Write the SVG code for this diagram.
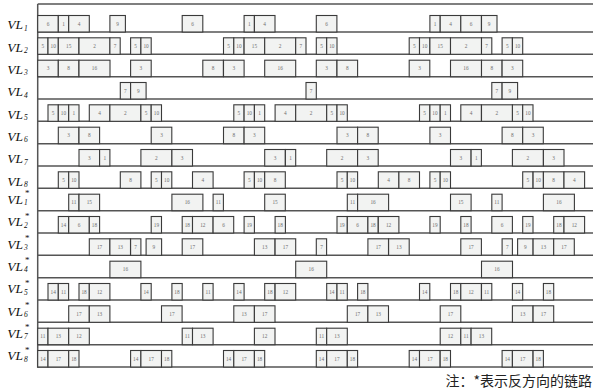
<svg xmlns="http://www.w3.org/2000/svg" width="593" height="391" viewBox="0 0 593 391">
<style>
.b rect{fill:#f2f3f2;stroke:#3a3a3a;stroke-width:1.1}
.b text{font-family:"Liberation Serif",serif;font-size:5.3px;fill:#6e6e6e;text-anchor:middle}
.b text.l{font-size:13.5px;font-style:italic;fill:#111;text-anchor:start}
.b text.s{font-size:7.5px;font-style:italic;fill:#111;text-anchor:start}
.b text.st{font-size:9px;fill:#111;text-anchor:start}
.g line{stroke:#555;stroke-width:1.5}
.note{font-family:"Noto Sans CJK SC",sans-serif;font-size:14px;fill:#222;text-anchor:end}
</style>
<g id="connectors" class="g">
<line x1="37.7" y1="4" x2="593" y2="4"/>
<line x1="37.7" y1="4" x2="37.7" y2="367.7"/>
<line x1="37.7" y1="32" x2="593" y2="32"/>
<line x1="37.7" y1="54.3" x2="593" y2="54.3"/>
<line x1="37.7" y1="76.7" x2="593" y2="76.7"/>
<line x1="37.7" y1="99" x2="593" y2="99"/>
<line x1="37.7" y1="121.3" x2="593" y2="121.3"/>
<line x1="37.7" y1="143.7" x2="593" y2="143.7"/>
<line x1="37.7" y1="166" x2="593" y2="166"/>
<line x1="37.7" y1="188.3" x2="593" y2="188.3"/>
<line x1="37.7" y1="210.7" x2="593" y2="210.7"/>
<line x1="37.7" y1="233" x2="593" y2="233"/>
<line x1="37.7" y1="255.3" x2="593" y2="255.3"/>
<line x1="37.7" y1="277.7" x2="593" y2="277.7"/>
<line x1="37.7" y1="300" x2="593" y2="300"/>
<line x1="37.7" y1="322.3" x2="593" y2="322.3"/>
<line x1="37.7" y1="344.7" x2="593" y2="344.7"/>
<line x1="37.7" y1="367" x2="593" y2="367"/>
</g>

<g id="VL1" class="b" transform="translate(37.7,15.5)">
<text class="l" x="-30.4" y="13.8">VL</text><text class="s" x="-13.7" y="15.2">1</text>
<rect x="0" y="0" width="20.6" height="16.5"/><text x="10.3" y="10">6</text>
<rect x="20.6" y="0" width="10.3" height="16.5"/><text x="25.8" y="10">1</text>
<rect x="31" y="0" width="20.6" height="16.5"/><text x="41.3" y="10">4</text>
<rect x="72.2" y="0" width="15.5" height="16.5"/><text x="80" y="10">9</text>
<rect x="144.5" y="0" width="20.6" height="16.5"/><text x="154.8" y="10">6</text>
<rect x="206.4" y="0" width="10.3" height="16.5"/><text x="211.6" y="10">1</text>
<rect x="216.7" y="0" width="20.6" height="16.5"/><text x="227" y="10">4</text>
<rect x="278.6" y="0" width="20.6" height="16.5"/><text x="289" y="10">6</text>
<rect x="392.2" y="0" width="10.3" height="16.5"/><text x="397.3" y="10">1</text>
<rect x="402.5" y="0" width="20.6" height="16.5"/><text x="412.8" y="10">4</text>
<rect x="423.1" y="0" width="20.6" height="16.5"/><text x="433.4" y="10">6</text>
<rect x="443.8" y="0" width="15.5" height="16.5"/><text x="451.5" y="10">9</text>
</g>

<g id="VL2" class="b" transform="translate(37.7,37.8)">
<text class="l" x="-30.4" y="13.8">VL</text><text class="s" x="-13.7" y="15.2">2</text>
<rect x="0" y="0" width="10.3" height="16.5"/><text x="5.2" y="10">5</text>
<rect x="10.3" y="0" width="10.3" height="16.5"/><text x="15.5" y="10">10</text>
<rect x="20.6" y="0" width="20.6" height="16.5"/><text x="31" y="10">15</text>
<rect x="41.3" y="0" width="31" height="16.5"/><text x="56.8" y="10">2</text>
<rect x="72.2" y="0" width="10.3" height="16.5"/><text x="77.4" y="10">7</text>
<rect x="92.9" y="0" width="10.3" height="16.5"/><text x="98" y="10">5</text>
<rect x="103.2" y="0" width="10.3" height="16.5"/><text x="108.4" y="10">10</text>
<rect x="185.8" y="0" width="10.3" height="16.5"/><text x="190.9" y="10">5</text>
<rect x="196.1" y="0" width="10.3" height="16.5"/><text x="201.2" y="10">10</text>
<rect x="206.4" y="0" width="20.6" height="16.5"/><text x="216.7" y="10">15</text>
<rect x="227" y="0" width="31" height="16.5"/><text x="242.5" y="10">2</text>
<rect x="258" y="0" width="10.3" height="16.5"/><text x="263.2" y="10">7</text>
<rect x="278.6" y="0" width="10.3" height="16.5"/><text x="283.8" y="10">5</text>
<rect x="289" y="0" width="10.3" height="16.5"/><text x="294.1" y="10">10</text>
<rect x="371.5" y="0" width="10.3" height="16.5"/><text x="376.7" y="10">5</text>
<rect x="381.8" y="0" width="10.3" height="16.5"/><text x="387" y="10">10</text>
<rect x="392.2" y="0" width="20.6" height="16.5"/><text x="402.5" y="10">15</text>
<rect x="412.8" y="0" width="31" height="16.5"/><text x="428.3" y="10">2</text>
<rect x="443.8" y="0" width="10.3" height="16.5"/><text x="448.9" y="10">7</text>
<rect x="464.4" y="0" width="10.3" height="16.5"/><text x="469.6" y="10">5</text>
<rect x="474.7" y="0" width="10.3" height="16.5"/><text x="479.9" y="10">10</text>
</g>

<g id="VL3" class="b" transform="translate(37.7,60.2)">
<text class="l" x="-30.4" y="13.8">VL</text><text class="s" x="-13.7" y="15.2">3</text>
<rect x="0" y="0" width="20.6" height="16.5"/><text x="10.3" y="10">3</text>
<rect x="20.6" y="0" width="20.6" height="16.5"/><text x="31" y="10">8</text>
<rect x="41.3" y="0" width="31" height="16.5"/><text x="56.8" y="10">16</text>
<rect x="92.9" y="0" width="20.6" height="16.5"/><text x="103.2" y="10">3</text>
<rect x="165.1" y="0" width="20.6" height="16.5"/><text x="175.4" y="10">8</text>
<rect x="185.8" y="0" width="20.6" height="16.5"/><text x="196.1" y="10">3</text>
<rect x="227" y="0" width="31" height="16.5"/><text x="242.5" y="10">16</text>
<rect x="278.6" y="0" width="20.6" height="16.5"/><text x="289" y="10">3</text>
<rect x="299.3" y="0" width="20.6" height="16.5"/><text x="309.6" y="10">8</text>
<rect x="371.5" y="0" width="20.6" height="16.5"/><text x="381.8" y="10">3</text>
<rect x="412.8" y="0" width="31" height="16.5"/><text x="428.3" y="10">16</text>
<rect x="443.8" y="0" width="20.6" height="16.5"/><text x="454.1" y="10">8</text>
<rect x="464.4" y="0" width="20.6" height="16.5"/><text x="474.7" y="10">3</text>
</g>

<g id="VL4" class="b" transform="translate(37.7,82.5)">
<text class="l" x="-30.4" y="13.8">VL</text><text class="s" x="-13.7" y="15.2">4</text>
<rect x="82.6" y="0" width="10.3" height="16.5"/><text x="87.7" y="10">7</text>
<rect x="92.9" y="0" width="15.5" height="16.5"/><text x="100.6" y="10">9</text>
<rect x="268.3" y="0" width="10.3" height="16.5"/><text x="273.5" y="10">7</text>
<rect x="454.1" y="0" width="10.3" height="16.5"/><text x="459.2" y="10">7</text>
<rect x="464.4" y="0" width="15.5" height="16.5"/><text x="472.1" y="10">9</text>
</g>

<g id="VL5" class="b" transform="translate(37.7,104.8)">
<text class="l" x="-30.4" y="13.8">VL</text><text class="s" x="-13.7" y="15.2">5</text>
<rect x="10.3" y="0" width="10.3" height="16.5"/><text x="15.5" y="10">5</text>
<rect x="20.6" y="0" width="10.3" height="16.5"/><text x="25.8" y="10">10</text>
<rect x="31" y="0" width="10.3" height="16.5"/><text x="36.1" y="10">1</text>
<rect x="51.6" y="0" width="20.6" height="16.5"/><text x="61.9" y="10">4</text>
<rect x="72.2" y="0" width="31" height="16.5"/><text x="87.7" y="10">2</text>
<rect x="103.2" y="0" width="10.3" height="16.5"/><text x="108.4" y="10">5</text>
<rect x="113.5" y="0" width="10.3" height="16.5"/><text x="118.7" y="10">10</text>
<rect x="196.1" y="0" width="10.3" height="16.5"/><text x="201.2" y="10">5</text>
<rect x="206.4" y="0" width="10.3" height="16.5"/><text x="211.6" y="10">10</text>
<rect x="216.7" y="0" width="10.3" height="16.5"/><text x="221.9" y="10">1</text>
<rect x="237.4" y="0" width="20.6" height="16.5"/><text x="247.7" y="10">4</text>
<rect x="258" y="0" width="31" height="16.5"/><text x="273.5" y="10">2</text>
<rect x="289" y="0" width="10.3" height="16.5"/><text x="294.1" y="10">5</text>
<rect x="299.3" y="0" width="10.3" height="16.5"/><text x="304.4" y="10">10</text>
<rect x="381.8" y="0" width="10.3" height="16.5"/><text x="387" y="10">5</text>
<rect x="392.2" y="0" width="10.3" height="16.5"/><text x="397.3" y="10">10</text>
<rect x="402.5" y="0" width="10.3" height="16.5"/><text x="407.6" y="10">1</text>
<rect x="423.1" y="0" width="20.6" height="16.5"/><text x="433.4" y="10">4</text>
<rect x="443.8" y="0" width="31" height="16.5"/><text x="459.2" y="10">2</text>
<rect x="474.7" y="0" width="10.3" height="16.5"/><text x="479.9" y="10">5</text>
<rect x="485" y="0" width="10.3" height="16.5"/><text x="490.2" y="10">10</text>
</g>

<g id="VL6" class="b" transform="translate(37.7,127.2)">
<text class="l" x="-30.4" y="13.8">VL</text><text class="s" x="-13.7" y="15.2">6</text>
<rect x="20.6" y="0" width="20.6" height="16.5"/><text x="31" y="10">3</text>
<rect x="41.3" y="0" width="20.6" height="16.5"/><text x="51.6" y="10">8</text>
<rect x="113.5" y="0" width="20.6" height="16.5"/><text x="123.8" y="10">3</text>
<rect x="185.8" y="0" width="20.6" height="16.5"/><text x="196.1" y="10">8</text>
<rect x="206.4" y="0" width="20.6" height="16.5"/><text x="216.7" y="10">3</text>
<rect x="299.3" y="0" width="20.6" height="16.5"/><text x="309.6" y="10">3</text>
<rect x="319.9" y="0" width="20.6" height="16.5"/><text x="330.2" y="10">8</text>
<rect x="392.2" y="0" width="20.6" height="16.5"/><text x="402.5" y="10">3</text>
<rect x="464.4" y="0" width="20.6" height="16.5"/><text x="474.7" y="10">8</text>
<rect x="485" y="0" width="20.6" height="16.5"/><text x="495.4" y="10">3</text>
</g>

<g id="VL7" class="b" transform="translate(37.7,149.5)">
<text class="l" x="-30.4" y="13.8">VL</text><text class="s" x="-13.7" y="15.2">7</text>
<rect x="41.3" y="0" width="20.6" height="16.5"/><text x="51.6" y="10">3</text>
<rect x="61.9" y="0" width="10.3" height="16.5"/><text x="67.1" y="10">1</text>
<rect x="103.2" y="0" width="31" height="16.5"/><text x="118.7" y="10">2</text>
<rect x="134.2" y="0" width="20.6" height="16.5"/><text x="144.5" y="10">3</text>
<rect x="227" y="0" width="20.6" height="16.5"/><text x="237.4" y="10">3</text>
<rect x="247.7" y="0" width="10.3" height="16.5"/><text x="252.8" y="10">1</text>
<rect x="289" y="0" width="31" height="16.5"/><text x="304.4" y="10">2</text>
<rect x="319.9" y="0" width="20.6" height="16.5"/><text x="330.2" y="10">3</text>
<rect x="412.8" y="0" width="20.6" height="16.5"/><text x="423.1" y="10">3</text>
<rect x="433.4" y="0" width="10.3" height="16.5"/><text x="438.6" y="10">1</text>
<rect x="474.7" y="0" width="31" height="16.5"/><text x="490.2" y="10">2</text>
<rect x="505.7" y="0" width="20.6" height="16.5"/><text x="516" y="10">3</text>
</g>

<g id="VL8" class="b" transform="translate(37.7,171.8)">
<text class="l" x="-30.4" y="13.8">VL</text><text class="s" x="-13.7" y="15.2">8</text>
<rect x="20.6" y="0" width="10.3" height="16.5"/><text x="25.8" y="10">5</text>
<rect x="31" y="0" width="10.3" height="16.5"/><text x="36.1" y="10">10</text>
<rect x="82.6" y="0" width="20.6" height="16.5"/><text x="92.9" y="10">8</text>
<rect x="113.5" y="0" width="10.3" height="16.5"/><text x="118.7" y="10">5</text>
<rect x="123.8" y="0" width="10.3" height="16.5"/><text x="129" y="10">10</text>
<rect x="154.8" y="0" width="20.6" height="16.5"/><text x="165.1" y="10">4</text>
<rect x="206.4" y="0" width="10.3" height="16.5"/><text x="211.6" y="10">5</text>
<rect x="216.7" y="0" width="10.3" height="16.5"/><text x="221.9" y="10">10</text>
<rect x="227" y="0" width="20.6" height="16.5"/><text x="237.4" y="10">8</text>
<rect x="299.3" y="0" width="10.3" height="16.5"/><text x="304.4" y="10">5</text>
<rect x="309.6" y="0" width="10.3" height="16.5"/><text x="314.8" y="10">10</text>
<rect x="340.6" y="0" width="20.6" height="16.5"/><text x="350.9" y="10">4</text>
<rect x="361.2" y="0" width="20.6" height="16.5"/><text x="371.5" y="10">8</text>
<rect x="392.2" y="0" width="10.3" height="16.5"/><text x="397.3" y="10">5</text>
<rect x="402.5" y="0" width="10.3" height="16.5"/><text x="407.6" y="10">10</text>
<rect x="485" y="0" width="10.3" height="16.5"/><text x="490.2" y="10">5</text>
<rect x="495.4" y="0" width="10.3" height="16.5"/><text x="500.5" y="10">10</text>
<rect x="505.7" y="0" width="20.6" height="16.5"/><text x="516" y="10">8</text>
<rect x="526.3" y="0" width="20.6" height="16.5"/><text x="536.6" y="10">4</text>
</g>

<g id="VL1r" class="b" transform="translate(37.7,194.2)">
<text class="l" x="-30.4" y="9.8">VL</text><text class="s" x="-13.7" y="11">1</text><text class="st" x="-12.8" y="2.2">*</text>
<rect x="31" y="0" width="10.3" height="16.5"/><text x="36.1" y="10">11</text>
<rect x="41.3" y="0" width="20.6" height="16.5"/><text x="51.6" y="10">15</text>
<rect x="134.2" y="0" width="31" height="16.5"/><text x="149.6" y="10">16</text>
<rect x="175.4" y="0" width="10.3" height="16.5"/><text x="180.6" y="10">11</text>
<rect x="227" y="0" width="20.6" height="16.5"/><text x="237.4" y="10">15</text>
<rect x="309.6" y="0" width="10.3" height="16.5"/><text x="314.8" y="10">11</text>
<rect x="319.9" y="0" width="31" height="16.5"/><text x="335.4" y="10">16</text>
<rect x="412.8" y="0" width="20.6" height="16.5"/><text x="423.1" y="10">15</text>
<rect x="454.1" y="0" width="10.3" height="16.5"/><text x="459.2" y="10">11</text>
<rect x="505.7" y="0" width="31" height="16.5"/><text x="521.2" y="10">16</text>
</g>

<g id="VL2r" class="b" transform="translate(37.7,216.5)">
<text class="l" x="-30.4" y="9.8">VL</text><text class="s" x="-13.7" y="11">2</text><text class="st" x="-12.8" y="2.2">*</text>
<rect x="20.6" y="0" width="10.3" height="16.5"/><text x="25.8" y="10">14</text>
<rect x="31" y="0" width="20.6" height="16.5"/><text x="41.3" y="10">6</text>
<rect x="51.6" y="0" width="10.3" height="16.5"/><text x="56.8" y="10">18</text>
<rect x="113.5" y="0" width="10.3" height="16.5"/><text x="118.7" y="10">19</text>
<rect x="144.5" y="0" width="10.3" height="16.5"/><text x="149.6" y="10">18</text>
<rect x="154.8" y="0" width="20.6" height="16.5"/><text x="165.1" y="10">12</text>
<rect x="175.4" y="0" width="20.6" height="16.5"/><text x="185.8" y="10">6</text>
<rect x="206.4" y="0" width="10.3" height="16.5"/><text x="211.6" y="10">19</text>
<rect x="237.4" y="0" width="10.3" height="16.5"/><text x="242.5" y="10">18</text>
<rect x="299.3" y="0" width="10.3" height="16.5"/><text x="304.4" y="10">19</text>
<rect x="309.6" y="0" width="20.6" height="16.5"/><text x="319.9" y="10">6</text>
<rect x="330.2" y="0" width="10.3" height="16.5"/><text x="335.4" y="10">18</text>
<rect x="340.6" y="0" width="20.6" height="16.5"/><text x="350.9" y="10">12</text>
<rect x="392.2" y="0" width="10.3" height="16.5"/><text x="397.3" y="10">19</text>
<rect x="423.1" y="0" width="10.3" height="16.5"/><text x="428.3" y="10">18</text>
<rect x="454.1" y="0" width="20.6" height="16.5"/><text x="464.4" y="10">6</text>
<rect x="485" y="0" width="10.3" height="16.5"/><text x="490.2" y="10">19</text>
<rect x="516" y="0" width="10.3" height="16.5"/><text x="521.2" y="10">18</text>
<rect x="526.3" y="0" width="20.6" height="16.5"/><text x="536.6" y="10">12</text>
</g>

<g id="VL3r" class="b" transform="translate(37.7,238.8)">
<text class="l" x="-30.4" y="9.8">VL</text><text class="s" x="-13.7" y="11">3</text><text class="st" x="-12.8" y="2.2">*</text>
<rect x="51.6" y="0" width="20.6" height="16.5"/><text x="61.9" y="10">17</text>
<rect x="72.2" y="0" width="20.6" height="16.5"/><text x="82.6" y="10">13</text>
<rect x="92.9" y="0" width="10.3" height="16.5"/><text x="98" y="10">7</text>
<rect x="108.4" y="0" width="15.5" height="16.5"/><text x="116.1" y="10">9</text>
<rect x="144.5" y="0" width="20.6" height="16.5"/><text x="154.8" y="10">17</text>
<rect x="216.7" y="0" width="20.6" height="16.5"/><text x="227" y="10">13</text>
<rect x="237.4" y="0" width="20.6" height="16.5"/><text x="247.7" y="10">17</text>
<rect x="278.6" y="0" width="10.3" height="16.5"/><text x="283.8" y="10">7</text>
<rect x="330.2" y="0" width="20.6" height="16.5"/><text x="340.6" y="10">17</text>
<rect x="350.9" y="0" width="20.6" height="16.5"/><text x="361.2" y="10">13</text>
<rect x="423.1" y="0" width="20.6" height="16.5"/><text x="433.4" y="10">17</text>
<rect x="464.4" y="0" width="10.3" height="16.5"/><text x="469.6" y="10">7</text>
<rect x="479.9" y="0" width="15.5" height="16.5"/><text x="487.6" y="10">9</text>
<rect x="495.4" y="0" width="20.6" height="16.5"/><text x="505.7" y="10">13</text>
<rect x="516" y="0" width="20.6" height="16.5"/><text x="526.3" y="10">17</text>
</g>

<g id="VL4r" class="b" transform="translate(37.7,261.2)">
<text class="l" x="-30.4" y="9.8">VL</text><text class="s" x="-13.7" y="11">4</text><text class="st" x="-12.8" y="2.2">*</text>
<rect x="72.2" y="0" width="31" height="16.5"/><text x="87.7" y="10">16</text>
<rect x="258" y="0" width="31" height="16.5"/><text x="273.5" y="10">16</text>
<rect x="443.8" y="0" width="31" height="16.5"/><text x="459.2" y="10">16</text>
</g>

<g id="VL5r" class="b" transform="translate(37.7,283.5)">
<text class="l" x="-30.4" y="9.8">VL</text><text class="s" x="-13.7" y="11">5</text><text class="st" x="-12.8" y="2.2">*</text>
<rect x="10.3" y="0" width="10.3" height="16.5"/><text x="15.5" y="10">14</text>
<rect x="20.6" y="0" width="10.3" height="16.5"/><text x="25.8" y="10">11</text>
<rect x="41.3" y="0" width="10.3" height="16.5"/><text x="46.4" y="10">18</text>
<rect x="51.6" y="0" width="20.6" height="16.5"/><text x="61.9" y="10">12</text>
<rect x="103.2" y="0" width="10.3" height="16.5"/><text x="108.4" y="10">14</text>
<rect x="134.2" y="0" width="10.3" height="16.5"/><text x="139.3" y="10">18</text>
<rect x="165.1" y="0" width="10.3" height="16.5"/><text x="170.3" y="10">11</text>
<rect x="196.1" y="0" width="10.3" height="16.5"/><text x="201.2" y="10">14</text>
<rect x="227" y="0" width="10.3" height="16.5"/><text x="232.2" y="10">18</text>
<rect x="237.4" y="0" width="20.6" height="16.5"/><text x="247.7" y="10">12</text>
<rect x="289" y="0" width="10.3" height="16.5"/><text x="294.1" y="10">14</text>
<rect x="299.3" y="0" width="10.3" height="16.5"/><text x="304.4" y="10">11</text>
<rect x="319.9" y="0" width="10.3" height="16.5"/><text x="325.1" y="10">18</text>
<rect x="381.8" y="0" width="10.3" height="16.5"/><text x="387" y="10">14</text>
<rect x="412.8" y="0" width="10.3" height="16.5"/><text x="418" y="10">18</text>
<rect x="423.1" y="0" width="20.6" height="16.5"/><text x="433.4" y="10">12</text>
<rect x="443.8" y="0" width="10.3" height="16.5"/><text x="448.9" y="10">11</text>
<rect x="474.7" y="0" width="10.3" height="16.5"/><text x="479.9" y="10">14</text>
<rect x="505.7" y="0" width="10.3" height="16.5"/><text x="510.8" y="10">18</text>
</g>

<g id="VL6r" class="b" transform="translate(37.7,305.8)">
<text class="l" x="-30.4" y="9.8">VL</text><text class="s" x="-13.7" y="11">6</text><text class="st" x="-12.8" y="2.2">*</text>
<rect x="31" y="0" width="20.6" height="16.5"/><text x="41.3" y="10">17</text>
<rect x="51.6" y="0" width="20.6" height="16.5"/><text x="61.9" y="10">13</text>
<rect x="123.8" y="0" width="20.6" height="16.5"/><text x="134.2" y="10">17</text>
<rect x="196.1" y="0" width="20.6" height="16.5"/><text x="206.4" y="10">13</text>
<rect x="216.7" y="0" width="20.6" height="16.5"/><text x="227" y="10">17</text>
<rect x="309.6" y="0" width="20.6" height="16.5"/><text x="319.9" y="10">17</text>
<rect x="330.2" y="0" width="20.6" height="16.5"/><text x="340.6" y="10">13</text>
<rect x="402.5" y="0" width="20.6" height="16.5"/><text x="412.8" y="10">17</text>
<rect x="474.7" y="0" width="20.6" height="16.5"/><text x="485" y="10">13</text>
<rect x="495.4" y="0" width="20.6" height="16.5"/><text x="505.7" y="10">17</text>
</g>

<g id="VL7r" class="b" transform="translate(37.7,328.2)">
<text class="l" x="-30.4" y="9.8">VL</text><text class="s" x="-13.7" y="11">7</text><text class="st" x="-12.8" y="2.2">*</text>
<rect x="0" y="0" width="10.3" height="16.5"/><text x="5.2" y="10">11</text>
<rect x="10.3" y="0" width="20.6" height="16.5"/><text x="20.6" y="10">13</text>
<rect x="31" y="0" width="20.6" height="16.5"/><text x="41.3" y="10">12</text>
<rect x="144.5" y="0" width="10.3" height="16.5"/><text x="149.6" y="10">11</text>
<rect x="154.8" y="0" width="20.6" height="16.5"/><text x="165.1" y="10">13</text>
<rect x="216.7" y="0" width="20.6" height="16.5"/><text x="227" y="10">12</text>
<rect x="278.6" y="0" width="10.3" height="16.5"/><text x="283.8" y="10">11</text>
<rect x="289" y="0" width="20.6" height="16.5"/><text x="299.3" y="10">13</text>
<rect x="402.5" y="0" width="20.6" height="16.5"/><text x="412.8" y="10">12</text>
<rect x="423.1" y="0" width="10.3" height="16.5"/><text x="428.3" y="10">11</text>
<rect x="433.4" y="0" width="20.6" height="16.5"/><text x="443.8" y="10">13</text>
</g>

<g id="VL8r" class="b" transform="translate(37.7,350.5)">
<text class="l" x="-30.4" y="9.8">VL</text><text class="s" x="-13.7" y="11">8</text><text class="st" x="-12.8" y="2.2">*</text>
<rect x="0" y="0" width="10.3" height="16.5"/><text x="5.2" y="10">14</text>
<rect x="10.3" y="0" width="20.6" height="16.5"/><text x="20.6" y="10">17</text>
<rect x="31" y="0" width="10.3" height="16.5"/><text x="36.1" y="10">18</text>
<rect x="92.9" y="0" width="10.3" height="16.5"/><text x="98" y="10">14</text>
<rect x="103.2" y="0" width="20.6" height="16.5"/><text x="113.5" y="10">17</text>
<rect x="123.8" y="0" width="10.3" height="16.5"/><text x="129" y="10">18</text>
<rect x="185.8" y="0" width="10.3" height="16.5"/><text x="190.9" y="10">14</text>
<rect x="196.1" y="0" width="20.6" height="16.5"/><text x="206.4" y="10">17</text>
<rect x="216.7" y="0" width="10.3" height="16.5"/><text x="221.9" y="10">18</text>
<rect x="278.6" y="0" width="10.3" height="16.5"/><text x="283.8" y="10">14</text>
<rect x="289" y="0" width="20.6" height="16.5"/><text x="299.3" y="10">17</text>
<rect x="309.6" y="0" width="10.3" height="16.5"/><text x="314.8" y="10">18</text>
<rect x="371.5" y="0" width="10.3" height="16.5"/><text x="376.7" y="10">14</text>
<rect x="381.8" y="0" width="20.6" height="16.5"/><text x="392.2" y="10">17</text>
<rect x="402.5" y="0" width="10.3" height="16.5"/><text x="407.6" y="10">18</text>
<rect x="464.4" y="0" width="10.3" height="16.5"/><text x="469.6" y="10">14</text>
<rect x="474.7" y="0" width="20.6" height="16.5"/><text x="485" y="10">17</text>
<rect x="495.4" y="0" width="10.3" height="16.5"/><text x="500.5" y="10">18</text>
</g>

<text class="note" x="592" y="386">注：*表示反方向的链路</text>
</svg>
